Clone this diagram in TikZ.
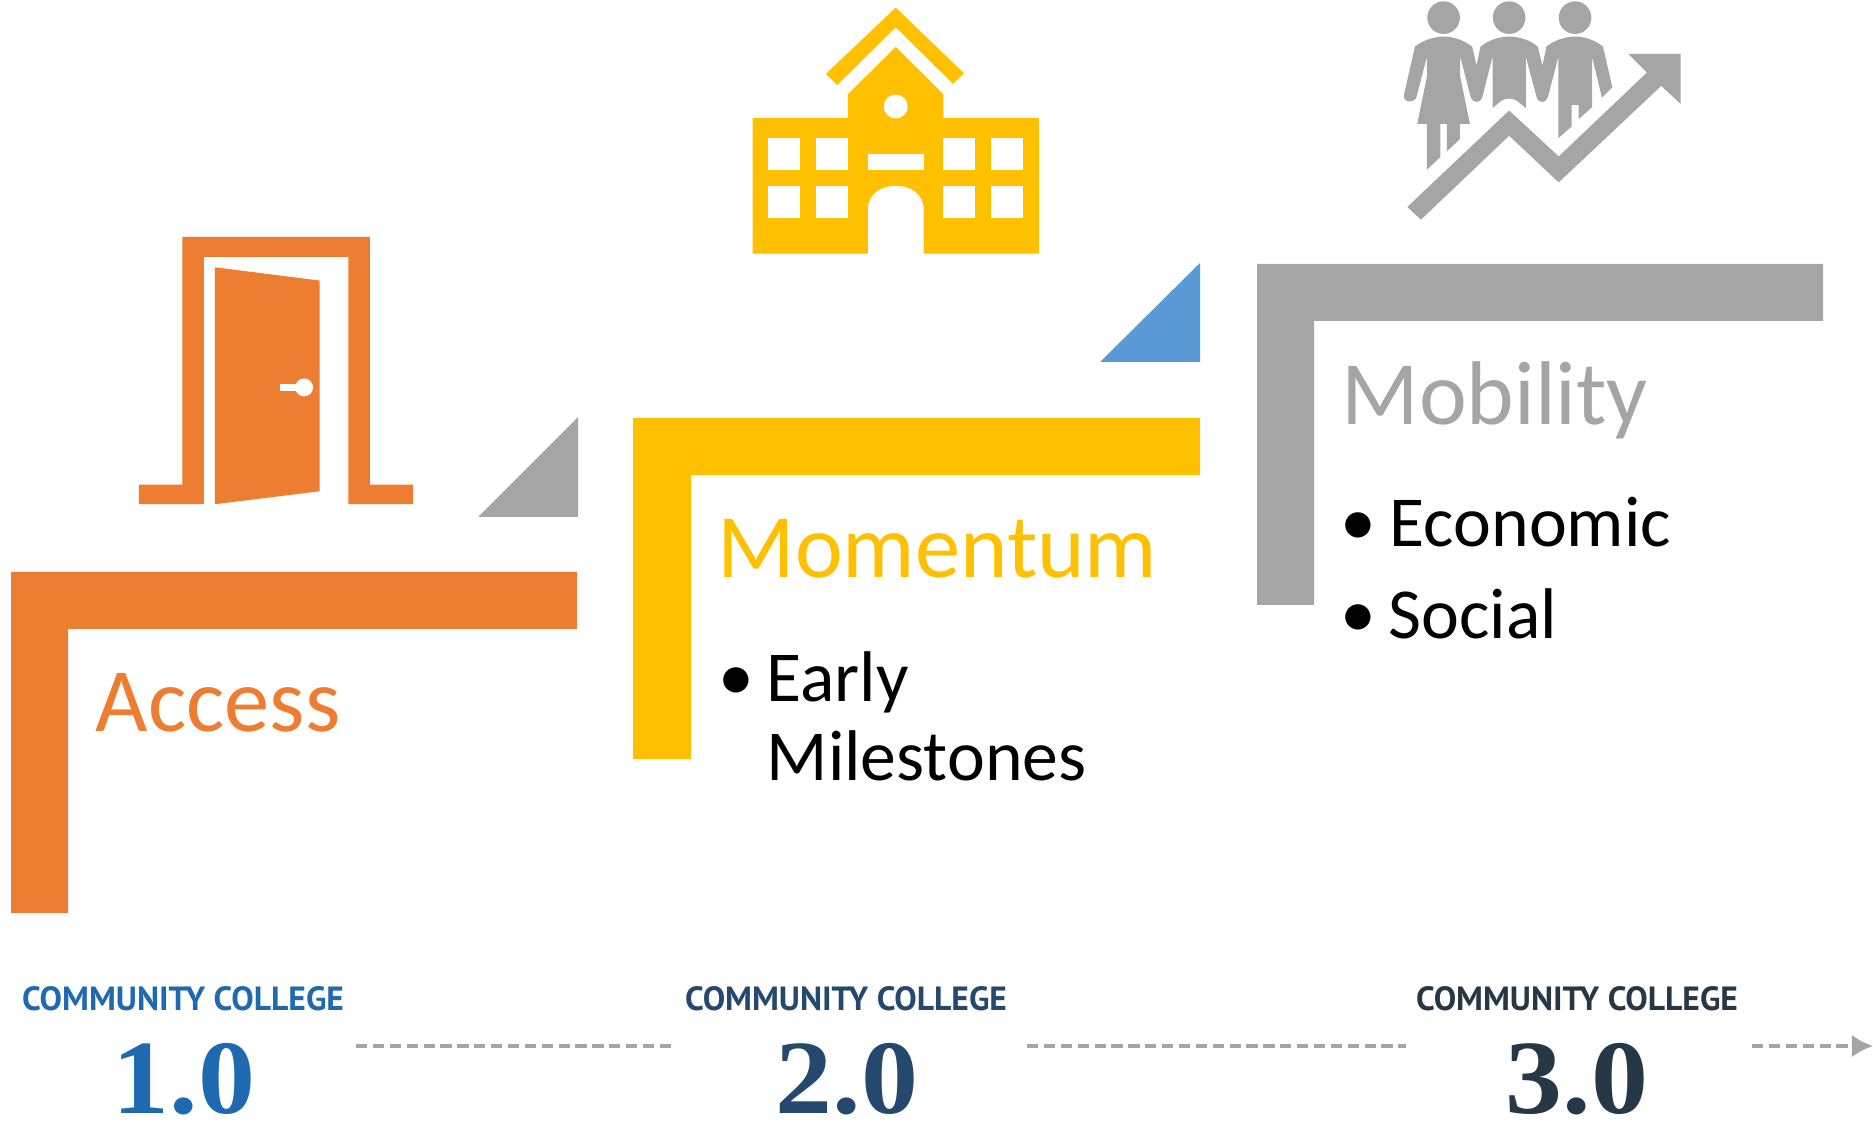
\documentclass[tikz,border=0pt]{standalone}
\usepackage{fontspec}
\setmainfont{Carlito}
\newfontfamily\ccfont{PT Sans}
\newfontfamily\numfont[FakeStretch=1.08]{Liberation Serif}
\usetikzlibrary{arrows.meta}
\definecolor{accessorange}{HTML}{ED7D31}
\definecolor{momentumyellow}{HTML}{FFC000}
\definecolor{mobilitygray}{HTML}{A5A5A5}
\definecolor{stepblue}{HTML}{5B9BD5}
\definecolor{ccone}{HTML}{1F69B0}
\definecolor{cctwo}{HTML}{24486E}
\definecolor{ccthree}{HTML}{263746}
\tikzset{
    heading/.style={anchor=base west, inner sep=0pt, font=\fontsize{25.75}{30}\selectfont},
    item/.style={anchor=base west, inner sep=0pt, font=\fontsize{20.4}{24}\selectfont},
    cctitle/.style={anchor=base, inner sep=0pt, font=\ccfont\bfseries\fontsize{9.55}{11}\selectfont},
    ccnum/.style={anchor=base, inner sep=0pt, font=\numfont\bfseries\fontsize{30}{36}\selectfont},
    icon/.style={x=0.003333cm, y=-0.003333cm},
    timeline/.style={draw=mobilitygray, line width=1.25pt, dash pattern=on 3.2pt off 1.6pt}
}
\begin{document}
\begin{tikzpicture}[x=0.01cm, y=-0.01cm]
    \useasboundingbox (0,0) rectangle (1873,1122);

    % corner bars
    \fill[accessorange] (11,572) -- (577,572) -- (577,629) -- (68,629) -- (68,913) -- (11,913) -- cycle;
    \fill[momentumyellow] (633,418) -- (1200,418) -- (1200,475) -- (691,475) -- (691,759) -- (633,759) -- cycle;
    \fill[mobilitygray] (1257,264) -- (1823,264) -- (1823,321) -- (1314,321) -- (1314,605) -- (1257,605) -- cycle;

    % triangles
    \fill[mobilitygray] (578,417) -- (578,517) -- (478,517) -- cycle;
    \fill[stepblue] (1200,263) -- (1200,362) -- (1100,362) -- cycle;

    % door
    \begin{scope}[shift={(130,230)}, icon]
        \fill[accessorange] (27,765) -- (157,765) -- (157,21) -- (721,21) -- (721,765) -- (851,765) -- (851,824) -- (656,824) -- (656,81) -- (222,81) -- (222,824) -- (27,824) -- cycle;
        \fill[accessorange] (255,112) -- (570,152) -- (570,785) -- (255,824) -- cycle;
        \fill[white] (450,463) rectangle (505,483);
        \fill[white] (523,473) circle (27);
    \end{scope}

    % school
    \begin{scope}[shift={(740,0)}, icon]
        \fill[momentumyellow] (468,23) -- (673,220) -- (640,252) -- (468,82) -- (292,256) -- (258,222) -- cycle;
        \fill[momentumyellow] (38,355) -- (324,355) -- (324,283) -- (468,141) -- (611,283) -- (611,355) -- (898,355) -- (898,762) -- (552,762) -- (552,630) .. controls (552,580) and (510,558) .. (468,558) .. controls (426,558) and (384,580) .. (384,630) -- (384,762) -- (38,762) -- cycle;
        \fill[white] (468,320) circle (36);
        \fill[white] (384,463) rectangle (552,510);
        \foreach \wx in {85,228,611,754}
            \foreach \wy in {415,558}
                \fill[white] (\wx,\wy) rectangle (\wx+96,\wy+96);
    \end{scope}

    % people and arrow
    \begin{scope}[shift={(1380,0)}, icon]
        \foreach \hx in {191,388,586}
            \fill[mobilitygray] (\hx,53) circle (49);
        \fill[mobilitygray] (72,285) -- (105,140) .. controls (130,120) and (165,110) .. (191,110) .. controls (220,110) and (250,120) .. (277,140) -- (290,197) -- (302,140) .. controls (327,120) and (360,110) .. (388,110) .. controls (417,110) and (450,120) .. (474,140) -- (488,197) -- (500,140) .. controls (525,120) and (558,110) .. (586,110) .. controls (615,110) and (645,120) .. (670,140) -- (698,262) -- (667,294) -- (637,170) -- (637,322) -- (597,358) -- (597,315) -- (576,315) -- (576,380) -- (536,415) -- (536,170) -- (505,290) .. controls (498,312) and (475,312) .. (470,290) -- (438,170) -- (438,325) -- (418,308) .. controls (400,292) and (376,292) .. (358,308) -- (338,325) -- (338,170) -- (308,290) .. controls (302,312) and (278,312) .. (272,290) -- (241,170) -- (241,230) -- (270,372) -- (240,372) -- (240,418) -- (201,455) -- (201,372) -- (181,372) -- (181,472) -- (141,510) -- (141,372) -- (112,372) -- (141,230) -- (141,170) -- (110,290) .. controls (104,312) and (68,310) .. (72,285) -- cycle;
        \fill[mobilitygray] (82,622) -- (388,332) -- (537,470) -- (802,218) -- (746,162) -- (903,162) -- (903,312) -- (845,258) -- (537,548) -- (388,408) -- (123,660) -- cycle;
    \end{scope}

    % headings and items
    \node[heading, text=accessorange] (access) at (95,731) {Access};
    \node[heading, text=momentumyellow] (momentum) at (717,578) {Momentum};
    \node[heading, text=mobilitygray] (mobility) at (1341,425) {Mobility};
    \node[item] (bulletA) at (718,700) {•};
    \node[item] (early) at (766,702) {Early};
    \node[item] (milestones) at (766,780) {Milestones};
    \node[item] (bulletB) at (1340,546) {•};
    \node[item] (economic) at (1389,547) {Economic};
    \node[item] (bulletC) at (1340,638) {•};
    \node[item] (social) at (1388,639) {Social};

    % bottom row
    \node[cctitle, text=ccone] (titleA) at (183,1010) {COMMUNITY COLLEGE};
    \node[cctitle, text=cctwo] (titleB) at (846,1010) {COMMUNITY COLLEGE};
    \node[cctitle, text=ccthree] (titleC) at (1577,1010) {COMMUNITY COLLEGE};
    \node[ccnum, text=ccone] (numA) at (184,1113) {1.0};
    \node[ccnum, text=cctwo] (numB) at (847,1113) {2.0};
    \node[ccnum, text=ccthree] (numC) at (1577,1113) {3.0};

    \coordinate (lineA) at (356,1046);
    \coordinate (lineB) at (671,1046);
    \coordinate (lineC) at (1027,1046);
    \coordinate (lineD) at (1406,1046);
    \coordinate (lineE) at (1752,1046);
    \coordinate (lineF) at (1873,1046);

    \path [timeline](lineA) edge (lineB);
    \path [timeline](lineC) edge (lineD);
    \draw [timeline, -{Latex[length=6pt, width=6.5pt, fill=mobilitygray]}](lineE) -- (lineF);
\end{tikzpicture}
\end{document}
